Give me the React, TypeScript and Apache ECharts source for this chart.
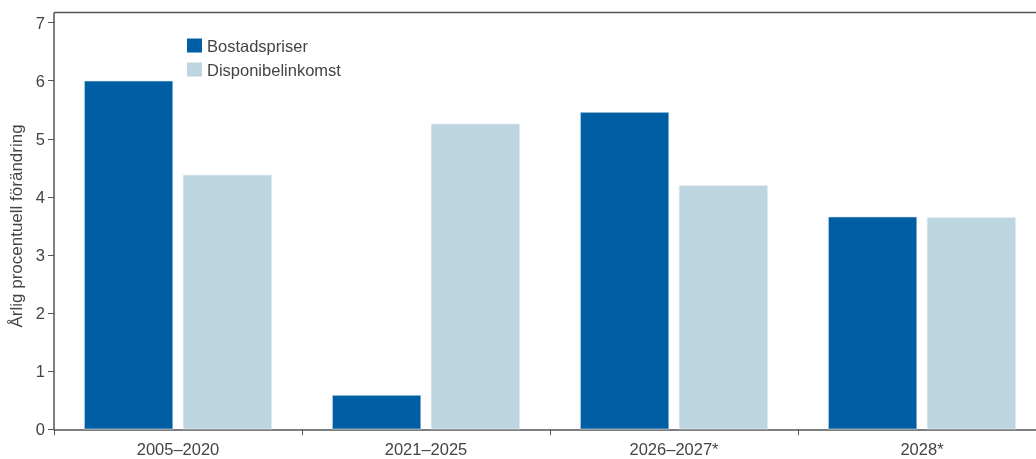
import React, { useEffect, useRef } from "react";
import * as echarts from "echarts";

const categories = ["2005–2020", "2021–2025", "2026–2027*", "2028*"];
const bostadspriser = [6.0, 0.59, 5.46, 3.66];
const disponibelinkomst = [4.38, 5.26, 4.2, 3.65];
const yTicks = [0, 1, 2, 3, 4, 5, 6, 7];

export default function App() {
  const ref = useRef<HTMLDivElement>(null);
  useEffect(() => {
    if (!ref.current) return;
    const chart = echarts.init(ref.current, undefined, { renderer: "svg" });
    const axisColor = "#555555";
    const textColor = "#444444";
    const font = "Liberation Sans, Arial, sans-serif";
    chart.setOption({
      animation: false,
      textStyle: { fontFamily: font },
      grid: {
        left: 54,
        top: 22.6,
        width: 992,
        height: 406.7,
        containLabel: false,
        outerBoundsMode: "none",
      },
      legend: {
        orient: "vertical",
        left: 182,
        top: 32,
        itemWidth: 15,
        itemHeight: 14,
        itemGap: 7,
        itemStyle: { borderWidth: 0 },
        icon: "rect",
        textStyle: { fontSize: 16.5, color: textColor, fontFamily: font },
        data: ["Bostadspriser", "Disponibelinkomst"],
      },
      xAxis: {
        type: "category",
        data: categories,
        axisLine: { lineStyle: { color: axisColor, width: 1.5 } },
        axisTick: { show: true, length: 6, lineStyle: { color: axisColor } },
        axisLabel: { fontSize: 16.5, color: textColor, margin: 11, fontFamily: font },
      },
      yAxis: {
        type: "value",
        min: yTicks[0],
        max: yTicks[yTicks.length - 1],
        interval: 1,
        name: "Årlig procentuell förändring",
        nameLocation: "middle",
        nameGap: 28,
        nameRotate: 90,
        nameTextStyle: { fontSize: 17, color: textColor, fontFamily: font },
        axisLine: { show: true, lineStyle: { color: axisColor, width: 1.5 } },
        axisTick: { show: true, length: 6, lineStyle: { color: axisColor } },
        axisLabel: { fontSize: 16.5, color: textColor, margin: 9, fontFamily: font },
        splitLine: { show: false },
      },
      graphic: [
        {
          type: "line",
          shape: { x1: 54, y1: 12.5, x2: 1036, y2: 12.5 },
          style: { stroke: axisColor, lineWidth: 1.5 },
        },
        {
          type: "line",
          shape: { x1: 54, y1: 12.5, x2: 54, y2: 23 },
          style: { stroke: axisColor, lineWidth: 1.5 },
        },
      ],
      series: [
        {
          name: "Bostadspriser",
          type: "bar",
          data: bostadspriser,
          barWidth: 89,
          barGap: "11%",
          itemStyle: { color: "#005ea5", borderColor: "#d8e6f0", borderWidth: 0.6 },
        },
        {
          name: "Disponibelinkomst",
          type: "bar",
          data: disponibelinkomst,
          barWidth: 89,
          itemStyle: { color: "#bdd5e1", borderColor: "#e4eef4", borderWidth: 0.6 },
        },
      ],
    });
    return () => chart.dispose();
  }, []);
  return (
    <div
      ref={ref}
      style={{ position: "fixed", left: 0, top: 0, width: 1036, height: 459 }}
    />
  );
}
